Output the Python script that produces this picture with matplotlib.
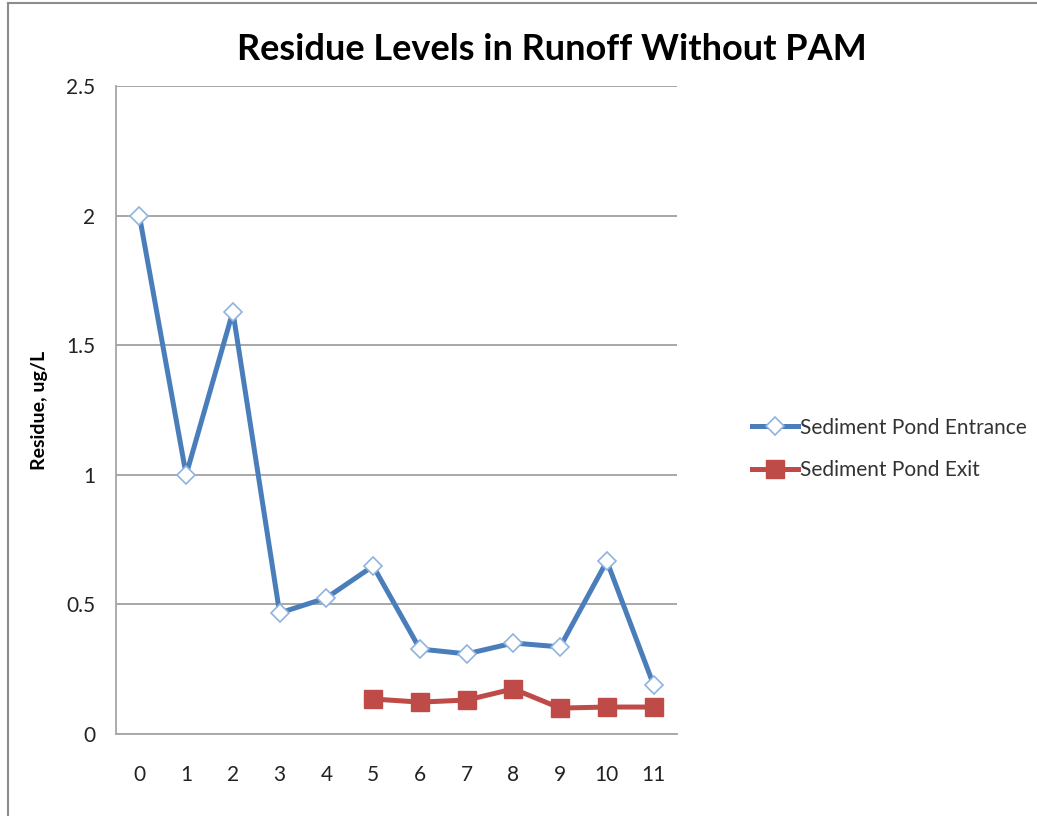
import matplotlib
matplotlib.use("Agg")
import matplotlib.pyplot as plt
from matplotlib.lines import Line2D

categories = ["0", "1", "2", "3", "4", "5", "6", "7", "8", "9", "10", "11"]
entrance = [2.0, 1.0, 1.63, 0.467, 0.525, 0.648, 0.328, 0.309, 0.351, 0.336, 0.667, 0.189]
exit_cats = ["5", "6", "7", "8", "9", "10", "11"]
exit_vals = [0.135, 0.123, 0.131, 0.174, 0.100, 0.104, 0.104]
yticks = [0, 0.5, 1, 1.5, 2, 2.5]
ytick_labels = ["0", "0.5", "1", "1.5", "2", "2.5"]

plt.rcParams["font.family"] = ["Lato", "DejaVu Sans"]

fig = plt.figure(figsize=(10.37, 8.16), dpi=100)
ax = fig.add_axes([116/1037, 82/816, 561/1037, 648/816])

xpos = list(range(len(categories)))
ex_pos = [categories.index(c) for c in exit_cats]

ax.plot(xpos, entrance, color="#4a7ebb", lw=3.6, marker="D", markersize=9,
        markerfacecolor="white", markeredgecolor="#8fb3e0", markeredgewidth=1.2,
        label="Sediment Pond Entrance", zorder=3)
ax.plot(ex_pos, exit_vals, color="#be4b48", lw=3.6, marker="s", markersize=13,
        markerfacecolor="#be4b48", markeredgecolor="#be4b48",
        label="Sediment Pond Exit", zorder=3)

ax.set_xlim(-0.5, len(categories) - 0.5)
ax.set_ylim(0, 2.5)
ax.set_xticks(xpos)
ax.set_xticklabels(categories, fontsize=15, color="#222222")
ax.set_yticks(yticks)
ax.set_yticklabels(ytick_labels, fontsize=15, color="#222222")
ax.tick_params(axis="x", length=0, pad=22)
ax.tick_params(axis="y", length=0, pad=15)
ax.yaxis.grid(True, color="#a0a0a0", lw=1.3)
ax.set_axisbelow(True)
for s in ["top", "right"]:
    ax.spines[s].set_visible(False)
for s in ["left", "bottom"]:
    ax.spines[s].set_color("#a6a6a6")
    ax.spines[s].set_linewidth(1.3)

fig.text(40/1037, 1 - 410/816, "Residue, ug/L", rotation=90, ha="center", va="center",
         fontsize=14, fontweight="bold")
fig.text(552/1037, 1 - 50/816, "Residue Levels in Runoff Without PAM",
         ha="center", va="center", fontsize=26, fontweight="bold")

leg = fig.legend(loc="center left", bbox_to_anchor=(752/1037, 1 - 449/816),
                 frameon=False, fontsize=15, handlelength=2.2, handletextpad=0.1,
                 labelspacing=1.1, labelcolor="#333333", borderaxespad=0, borderpad=0)

fig.add_artist(Line2D([8/1037, 8/1037], [0, 1 - 3/816], transform=fig.transFigure,
                      color="#8c8c8c", lw=1.5))
fig.add_artist(Line2D([8/1037, 1], [1 - 3/816, 1 - 3/816], transform=fig.transFigure,
                      color="#8c8c8c", lw=1.5))

fig.savefig("out.png", dpi=100)
